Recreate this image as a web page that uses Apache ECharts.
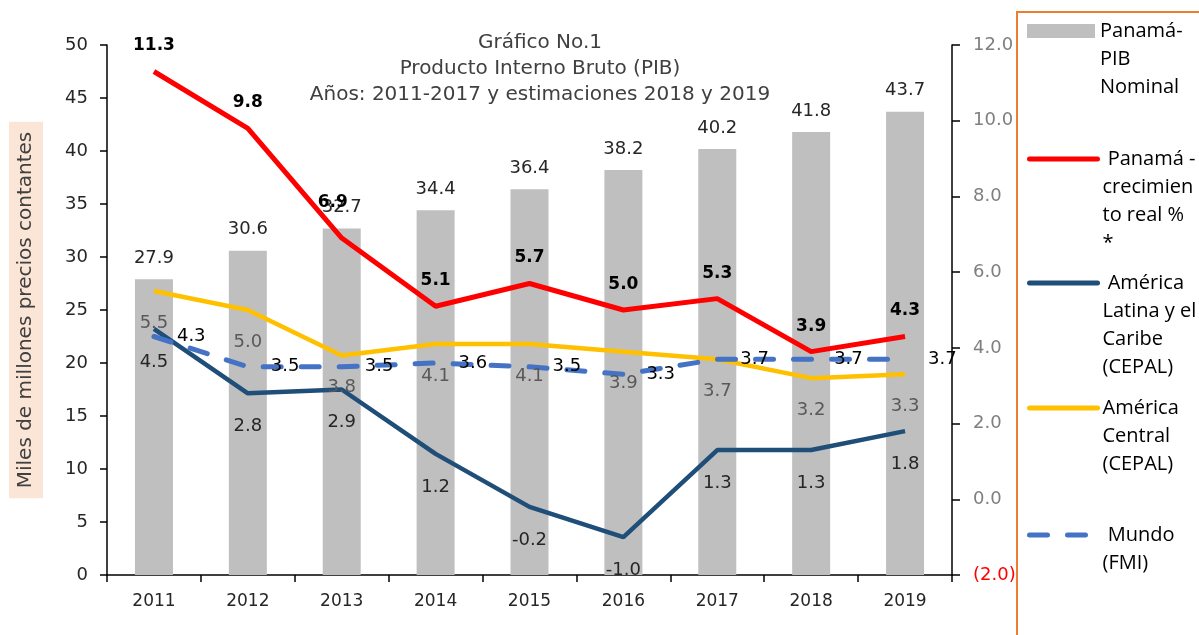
<!DOCTYPE html>
<html>
<head>
<meta charset="utf-8">
<script src="https://cdn.jsdelivr.net/npm/echarts@6/dist/echarts.min.js"></script>
<style>
  html, body { margin: 0; padding: 0; background: #fff; }
  #chart { width: 1199px; height: 635px; }
</style>
</head>
<body>
<div id="chart"></div>
<script>
const years = ['2011', '2012', '2013', '2014', '2015', '2016', '2017', '2018', '2019']
const pibNominal = [27.9, 30.6, 32.7, 34.4, 36.4, 38.2, 40.2, 41.8, 43.7]
const panamaCrecimiento = [11.3, 9.8, 6.9, 5.1, 5.7, 5.0, 5.3, 3.9, 4.3]
const americaLatina = [4.5, 2.8, 2.9, 1.2, -0.2, -1.0, 1.3, 1.3, 1.8]
const americaCentral = [5.5, 5.0, 3.8, 4.1, 4.1, 3.9, 3.7, 3.2, 3.3]
const mundo = [4.3, 3.5, 3.5, 3.6, 3.5, 3.3, 3.7, 3.7, 3.7]

const leftAxis = { min: 0, max: 50, interval: 5 }
const rightAxis = { min: -2, max: 12, interval: 2 }

const seriesNames = [
  'Panamá-PIB Nominal',
  'Panamá - crecimiento real % *',
  'América Latina y el Caribe (CEPAL)',
  'América Central (CEPAL)',
  'Mundo (FMI)'
]
const legendLabels = [
  'Panamá-\nPIB\nNominal',
  ' Panamá -\ncrecimien\nto real %\n*',
  ' América\nLatina y el\nCaribe\n(CEPAL)',
  'América\nCentral\n(CEPAL)',
  ' Mundo\n(FMI)'
]

const chartFont = 'DejaVu Sans'
const legendFont = 'Open Sans'
const legendLineHeight = 28
// vertical centre of each legend icon
const legendIconY = [31, 159, 283, 408, 535]

const chart = echarts.init(document.getElementById('chart'))

function fmt(p) {
  return Number(p.value).toFixed(1)
}

// legend text is centred on the icon, so pad the top with blank lines
// to put the first real line level with the icon
function legendText(i) {
  const lines = legendLabels[i].split('\n')
  const pad = new Array(lines.length - 1).fill(' ')
  return pad.concat(lines).join('\n')
}

function makeLegend(i) {
  const n = legendLabels[i].split('\n').length
  const isBar = i === 0
  return {
    show: true,
    orient: 'vertical',
    left: 1027,
    top: legendIconY[i] - (2 * n - 1) * legendLineHeight / 2,
    padding: 0,
    selectedMode: false,
    itemWidth: 68,
    itemHeight: 14,
    itemGap: 0,
    icon: isBar ? 'rect' : undefined,
    itemStyle: isBar ? {} : { opacity: 0 },
    lineStyle: isBar ? {} : { width: 5, cap: 'round' },
    data: [seriesNames[i]],
    formatter: () => legendText(i),
    textStyle: {
      fontFamily: legendFont,
      fontSize: 20,
      lineHeight: legendLineHeight,
      color: '#000'
    }
  }
}

const option = {
  animation: false,
  backgroundColor: '#fff',
  textStyle: { fontFamily: chartFont },
  title: {
    text: 'Gráfico No.1\nProducto Interno Bruto (PIB)\nAños: 2011-2017 y estimaciones 2018 y 2019',
    left: 540,
    top: 30,
    padding: 0,
    textAlign: 'center',
    textStyle: {
      fontFamily: chartFont,
      fontSize: 20,
      fontWeight: 'normal',
      lineHeight: 26,
      color: '#404040'
    }
  },
  legend: [0, 1, 2, 3, 4].map(makeLegend),
  grid: { left: 107, right: 247, top: 45, bottom: 60, containLabel: false },
  graphic: [
    {
      type: 'rect',
      shape: { x: 1017, y: 12, width: 220, height: 660 },
      style: { fill: 'none', stroke: '#ed7d31', lineWidth: 2 },
      silent: true
    }
  ],
  xAxis: [
    {
      type: 'category',
      data: years,
      boundaryGap: true,
      axisLine: { lineStyle: { color: '#000', width: 1.5 } },
      axisTick: { show: true, interval: 0, alignWithLabel: false, length: 7, lineStyle: { color: '#000', width: 1.5 } },
      axisLabel: { interval: 0, margin: 18, fontSize: 17, color: '#262626', fontFamily: chartFont }
    },
    {
      type: 'category',
      data: years,
      position: 'bottom',
      boundaryGap: true,
      axisLine: { show: false },
      axisTick: { show: true, interval: 0, alignWithLabel: true, length: 7, lineStyle: { color: '#000', width: 1.5 } },
      axisLabel: { show: false }
    }
  ],
  yAxis: [
    {
      type: 'value',
      min: leftAxis.min,
      max: leftAxis.max,
      interval: leftAxis.interval,
      name: 'Miles de millones precios contantes',
      nameLocation: 'middle',
      nameGap: 64,
      nameRotate: 90,
      nameTextStyle: {
        fontFamily: chartFont,
        fontSize: 20,
        color: '#404040',
        backgroundColor: '#fbe5d6',
        padding: [7, 10, 7, 10]
      },
      splitLine: { show: false },
      axisLine: { show: true, lineStyle: { color: '#000', width: 1.5 } },
      axisTick: { show: true, length: 7, lineStyle: { color: '#000', width: 1.5 } },
      axisLabel: { margin: 19, fontSize: 18, color: '#262626', fontFamily: chartFont }
    },
    {
      type: 'value',
      min: rightAxis.min,
      max: rightAxis.max,
      interval: rightAxis.interval,
      position: 'right',
      splitLine: { show: false },
      axisLine: { show: true, lineStyle: { color: '#000', width: 1.5 } },
      axisTick: { show: true, length: 8, lineStyle: { color: '#000', width: 1.5 } },
      axisLabel: {
        margin: 21,
        fontSize: 18,
        fontFamily: chartFont,
        color: (v) => (Number(v) < 0 ? '#ff0000' : '#7f7f7f'),
        formatter: (v) => (v < 0 ? '(' + Math.abs(v).toFixed(1) + ')' : v.toFixed(1))
      }
    }
  ],
  series: [
    {
      name: seriesNames[0],
      type: 'bar',
      yAxisIndex: 0,
      barWidth: 38,
      data: pibNominal,
      itemStyle: { color: '#bfbfbf' },
      label: {
        show: true,
        position: 'top',
        distance: 12,
        fontSize: 18,
        color: '#262626',
        fontFamily: chartFont,
        formatter: fmt
      }
    },
    {
      name: seriesNames[1],
      type: 'line',
      yAxisIndex: 1,
      symbol: 'circle',
      symbolSize: 0,
      data: panamaCrecimiento.map((v, i) => (i === 2 ? { value: v, label: { offset: [-9, -10] } } : v)),
      lineStyle: { color: '#ff0000', width: 5 },
      itemStyle: { color: '#ff0000' },
      label: {
        show: true,
        position: 'top',
        distance: 17,
        fontSize: 17,
        fontWeight: 'bold',
        color: '#000',
        fontFamily: chartFont,
        formatter: fmt
      }
    },
    {
      name: seriesNames[2],
      type: 'line',
      yAxisIndex: 1,
      symbol: 'circle',
      symbolSize: 0,
      data: americaLatina,
      lineStyle: { color: '#1f4e79', width: 4.5 },
      itemStyle: { color: '#1f4e79' },
      label: {
        show: true,
        position: 'bottom',
        distance: 24,
        fontSize: 18,
        color: '#262626',
        fontFamily: chartFont,
        formatter: fmt
      }
    },
    {
      name: seriesNames[3],
      type: 'line',
      yAxisIndex: 1,
      symbol: 'circle',
      symbolSize: 0,
      data: americaCentral,
      lineStyle: { color: '#ffc000', width: 4.5 },
      itemStyle: { color: '#ffc000' },
      label: {
        show: true,
        position: 'bottom',
        distance: 23,
        fontSize: 18,
        color: '#595959',
        fontFamily: chartFont,
        formatter: fmt
      }
    },
    {
      name: seriesNames[4],
      type: 'line',
      yAxisIndex: 1,
      symbol: 'circle',
      symbolSize: 0,
      data: mundo,
      lineStyle: { color: '#4472c4', width: 5, type: [18, 20], cap: 'round' },
      itemStyle: { color: '#4472c4' },
      label: {
        show: true,
        position: 'right',
        distance: 23,
        fontSize: 18,
        color: '#000',
        fontFamily: chartFont,
        formatter: fmt
      }
    }
  ]
}

chart.setOption(option)
</script>
</body>
</html>
